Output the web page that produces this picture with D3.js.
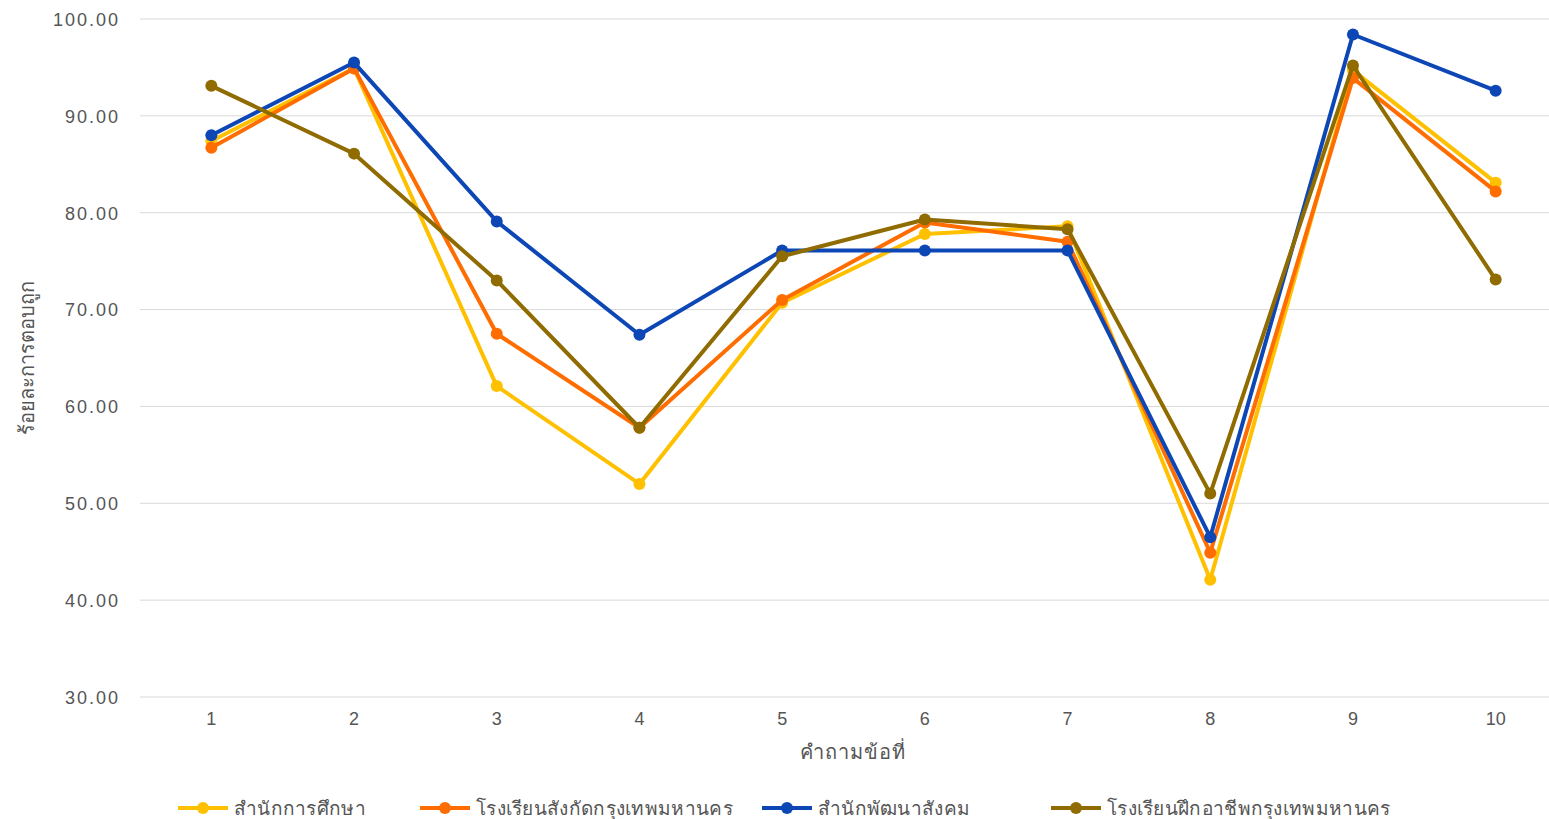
<!DOCTYPE html>
<html>
<head>
<meta charset="utf-8">
<script src="https://cdn.jsdelivr.net/npm/d3@7"></script>
<style>
  html, body { margin: 0; padding: 0; background: #fff; }
  svg { display: block; }
  text { font-family: "Liberation Sans", "Noto Sans", "DejaVu Sans", sans-serif; }
</style>
</head>
<body>
<svg id="chart" width="1549" height="819"></svg>
<script>
// Question numbers along the x axis
const questions = ["1", "2", "3", "4", "5", "6", "7", "8", "9", "10"];

// Percentage of correct answers per question, one array per group
const seriesNames = [
  "สำนักการศึกษา",
  "โรงเรียนสังกัดกรุงเทพมหานคร",
  "สำนักพัฒนาสังคม",
  "โรงเรียนฝึกอาชีพกรุงเทพมหานคร"
];
const officeOfEducation   = [87.4, 94.9, 62.1, 52.0, 70.7, 77.8, 78.6, 42.1, 94.7, 83.1];
const bmaSchools          = [86.7, 94.9, 67.5, 57.8, 71.0, 79.0, 77.0, 44.9, 93.9, 82.2];
const socialDevelopment   = [88.0, 95.5, 79.1, 67.4, 76.1, 76.1, 76.1, 46.5, 98.4, 92.6];
const vocationalSchools   = [93.1, 86.1, 73.0, 57.8, 75.5, 79.3, 78.3, 51.0, 95.2, 73.1];
const seriesValues = [officeOfEducation, bmaSchools, socialDevelopment, vocationalSchools];
const seriesColors = ["#FFC000", "#FF6D00", "#0D47B5", "#8F6B00"];

const yTicks = [30, 40, 50, 60, 70, 80, 90, 100];

const svg = d3.select("#chart");
const margin = { left: 140, right: 1567, top: 19, bottom: 697 };

const x = d3.scaleBand().domain(questions).range([margin.left, margin.right]);
const y = d3.scaleLinear().domain([30, 100]).range([margin.bottom, margin.top]);

// Horizontal gridlines
svg.append("g")
  .selectAll("line")
  .data(yTicks)
  .join("line")
  .attr("x1", margin.left)
  .attr("x2", margin.right)
  .attr("y1", d => y(d))
  .attr("y2", d => y(d))
  .attr("stroke", "#d9d9d9")
  .attr("stroke-width", 1);

// Y axis tick labels
const yAxis = d3.axisLeft(y).tickValues(yTicks).tickFormat(d3.format(".2f")).tickSize(0).tickPadding(0);
svg.append("g")
  .attr("transform", `translate(${margin.left - 20},0)`)
  .call(yAxis)
  .call(g => g.select(".domain").remove())
  .call(g => g.selectAll("text")
    .attr("fill", "#555555")
    .attr("font-size", 18)
    .attr("letter-spacing", 2)
    .attr("dy", "0.35em"));

// X axis tick labels
const xAxis = d3.axisBottom(x).tickSize(0).tickPadding(0);
svg.append("g")
  .attr("transform", `translate(0,${margin.bottom + 15})`)
  .call(xAxis)
  .call(g => g.select(".domain").remove())
  .call(g => g.selectAll("text")
    .attr("fill", "#555555")
    .attr("font-size", 18)
    .attr("dy", "0.71em"));

// Axis titles
svg.append("text")
  .attr("x", (margin.left + margin.right) / 2 - 1)
  .attr("y", 759)
  .attr("text-anchor", "middle")
  .attr("fill", "#555555")
  .attr("font-size", 20)
  .attr("letter-spacing", 1)
  .text("คำถามข้อที่");

svg.append("text")
  .attr("transform", `translate(34,${(margin.top + margin.bottom) / 2}) rotate(-90)`)
  .attr("text-anchor", "middle")
  .attr("fill", "#555555")
  .attr("font-size", 20)
  .text("ร้อยละการตอบถูก");

// Series lines and markers
const line = d3.line()
  .x((d, i) => x(questions[i]) + x.bandwidth() / 2)
  .y(d => y(d));

seriesValues.forEach((vals, s) => {
  const g = svg.append("g");
  g.append("path")
    .datum(vals)
    .attr("d", line)
    .attr("fill", "none")
    .attr("stroke", seriesColors[s])
    .attr("stroke-width", 4)
    .attr("stroke-linejoin", "round");
  g.selectAll("circle")
    .data(vals)
    .join("circle")
    .attr("cx", (d, i) => x(questions[i]) + x.bandwidth() / 2)
    .attr("cy", d => y(d))
    .attr("r", 6)
    .attr("fill", seriesColors[s]);
});

// Legend along the bottom
const legendX = [178, 420, 762, 1051];
const legend = svg.append("g");
seriesNames.forEach((name, s) => {
  const lg = legend.append("g").attr("transform", `translate(${legendX[s]},808)`);
  lg.append("line")
    .attr("x1", 0).attr("x2", 50)
    .attr("y1", 0).attr("y2", 0)
    .attr("stroke", seriesColors[s])
    .attr("stroke-width", 4);
  lg.append("circle")
    .attr("cx", 25).attr("cy", 0).attr("r", 6)
    .attr("fill", seriesColors[s]);
  lg.append("text")
    .attr("x", 56)
    .attr("y", 0)
    .attr("dy", "0.35em")
    .attr("fill", "#555555")
    .attr("font-size", 19)
    .attr("letter-spacing", 0.3)
    .text(name);
});
</script>
</body>
</html>
